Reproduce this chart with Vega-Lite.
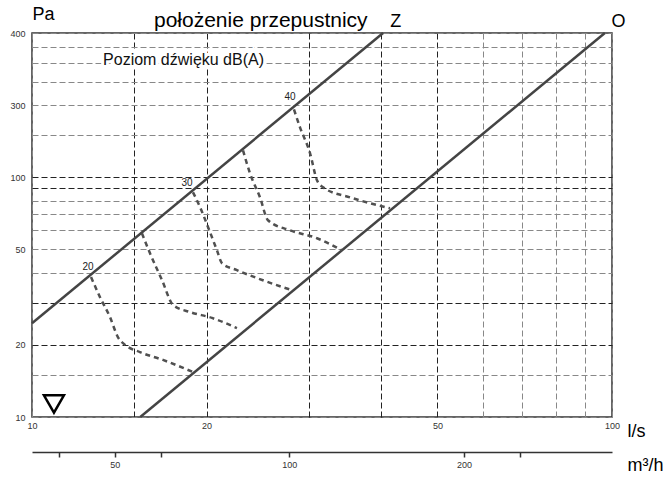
{
  "$schema": "https://vega.github.io/schema/vega-lite/v6.json",
  "width": 580,
  "height": 384,
  "autosize": {"type": "none"},
  "padding": {"left": 32, "top": 33, "right": 55, "bottom": 64},
  "background": "white",
  "config": {
    "font": "Liberation Sans",
    "view": {"stroke": "#333333", "strokeWidth": 1.5}
  },
  "datasets": {
    "solid": [
      {"s": "Z", "q": 10, "dp": 24.6},
      {"s": "Z", "q": 40.3, "dp": 400},
      {"s": "O", "q": 15.37, "dp": 10},
      {"s": "O", "q": 97.2, "dp": 400}
    ],
    "curves": [
      {"c": "20", "q": 12.64, "dp": 38.4},
      {"c": "20", "q": 13.1, "dp": 31.6},
      {"c": "20", "q": 13.63, "dp": 26.1},
      {"c": "20", "q": 14.07, "dp": 21.5},
      {"c": "20", "q": 14.47, "dp": 20.0},
      {"c": "20", "q": 15.35, "dp": 18.65},
      {"c": "20", "q": 16.82, "dp": 17.3},
      {"c": "20", "q": 18.95, "dp": 15.4},
      {"c": "25", "q": 15.47, "dp": 58.4},
      {"c": "25", "q": 15.97, "dp": 48.3},
      {"c": "25", "q": 16.76, "dp": 37.2},
      {"c": "25", "q": 17.51, "dp": 29.3},
      {"c": "25", "q": 18.73, "dp": 27.4},
      {"c": "25", "q": 20.43, "dp": 25.9},
      {"c": "25", "q": 22.56, "dp": 23.5},
      {"c": "30", "q": 18.95, "dp": 86.6},
      {"c": "30", "q": 19.49, "dp": 75.0},
      {"c": "30", "q": 20.12, "dp": 61.9},
      {"c": "30", "q": 20.84, "dp": 49.6},
      {"c": "30", "q": 21.26, "dp": 43.8},
      {"c": "30", "q": 22.56, "dp": 41.0},
      {"c": "30", "q": 25.01, "dp": 37.2},
      {"c": "30", "q": 28.07, "dp": 33.8},
      {"c": "35", "q": 23.11, "dp": 129.6},
      {"c": "35", "q": 23.76, "dp": 103.9},
      {"c": "35", "q": 24.72, "dp": 82.5},
      {"c": "35", "q": 25.52, "dp": 66.2},
      {"c": "35", "q": 27.85, "dp": 60.1},
      {"c": "35", "q": 31.0, "dp": 55.7},
      {"c": "35", "q": 34.22, "dp": 49.6},
      {"c": "40", "q": 28.29, "dp": 192},
      {"c": "40", "q": 28.98, "dp": 161.6},
      {"c": "40", "q": 30.16, "dp": 125.9},
      {"c": "40", "q": 31.0, "dp": 97.2},
      {"c": "40", "q": 31.76, "dp": 90.8},
      {"c": "40", "q": 35.34, "dp": 82.5},
      {"c": "40", "q": 41.42, "dp": 74.3}
    ],
    "levels": [
      {"t": "20", "q": 12.49, "dp": 42.2},
      {"t": "30", "q": 18.5, "dp": 94.4},
      {"t": "40", "q": 27.85, "dp": 215.4}
    ],
    "heads": [
      {"t": "Z", "q": 42.4, "dp": 425.6},
      {"t": "O", "q": 102.6, "dp": 425.6}
    ],
    "head": [
      {"t": "położenie przepustnicy", "q": 24.8, "dp": 425.6}
    ],
    "note": [
      {"t": "Poziom dźwięku dB(A)", "q": 13.26, "dp": 307.3}
    ],
    "sym": [
      {"q": 10.91, "dp": 11.33}
    ],
    "m3h": [
      {"m3h": 40}, {"m3h": 50}, {"m3h": 60}, {"m3h": 100}, {"m3h": 200}, {"m3h": 250}
    ]
  },
  "layer": [
    {
      "layer": [
        {
          "data": {"name": "solid"},
          "mark": {"type": "line", "color": "#444444", "strokeWidth": 2.5},
          "encoding": {
            "x": {
              "field": "q", "type": "quantitative",
              "scale": {"type": "log", "domain": [10, 100], "nice": false},
              "axis": {
                "orient": "bottom",
                "values": [10, 15, 20, 30, 40, 50, 60, 70, 80, 90, 100],
                "format": "d",
                "labelExpr": "indexof([10,20,50,100], datum.value) >= 0 ? datum.label : ''",
                "grid": true,
                "gridDash": [6, 3],
                "gridWidth": 1,
                "gridColor": {"condition": {"test": "indexof([15,20,30,40,50], datum.value) >= 0", "value": "#222222"}, "value": "#888888"},
                "domain": false,
                "ticks": false,
                "labelFontSize": 9,
                "labelColor": "#333333",
                "labelPadding": 4,
                "labelFlush": false,
                "labelOverlap": false,
                "title": "l/s",
                "titleFontSize": 18,
                "titleFontWeight": "normal",
                "titleColor": "#000000",
                "titleAlign": "left",
                "titleBaseline": "alphabetic",
                "titleX": 595,
                "titleY": 19
              }
            },
            "y": {
              "field": "dp", "type": "quantitative",
              "scale": {"type": "log", "domain": [10, 400], "nice": false},
              "axis": {
                "values": [10, 15, 20, 30, 40, 50, 60, 70, 80, 90, 100, 150, 200, 250, 300, 350, 400],
                "format": "d",
                "labelExpr": "datum.value == 200 ? '300' : (indexof([10,20,50,100,400], datum.value) >= 0 ? datum.label : '')",
                "grid": true,
                "gridDash": [6, 3],
                "gridWidth": 1,
                "gridColor": {"condition": {"test": "indexof([20,30,90,100], datum.value) >= 0", "value": "#222222"}, "value": "#888888"},
                "domain": false,
                "ticks": false,
                "labelFontSize": 9,
                "labelColor": "#333333",
                "labelPadding": 7,
                "labelFlush": false,
                "labelOverlap": false,
                "title": "Pa",
                "titleFontSize": 18,
                "titleFontWeight": "normal",
                "titleColor": "#000000",
                "titleAngle": 0,
                "titleAlign": "left",
                "titleBaseline": "alphabetic",
                "titleX": 0,
                "titleY": -14
              }
            },
            "detail": {"field": "s"}
          }
        },
        {
          "data": {"name": "curves"},
          "mark": {"type": "line", "color": "#505050", "strokeWidth": 2.5, "strokeDash": [5, 4], "interpolate": "monotone"},
          "encoding": {
            "x": {"field": "q", "type": "quantitative"},
            "y": {"field": "dp", "type": "quantitative"},
            "detail": {"field": "c"}
          }
        },
        {
          "data": {"name": "levels"},
          "mark": {"type": "text", "fontSize": 10, "color": "#222222", "align": "center", "baseline": "middle"},
          "encoding": {
            "x": {"field": "q", "type": "quantitative"},
            "y": {"field": "dp", "type": "quantitative"},
            "text": {"field": "t"}
          }
        },
        {
          "data": {"name": "heads"},
          "mark": {"type": "text", "fontSize": 18, "color": "#000000", "align": "center", "baseline": "alphabetic"},
          "encoding": {
            "x": {"field": "q", "type": "quantitative"},
            "y": {"field": "dp", "type": "quantitative"},
            "text": {"field": "t"}
          }
        },
        {
          "data": {"name": "head"},
          "mark": {"type": "text", "fontSize": 21, "color": "#000000", "align": "center", "baseline": "alphabetic"},
          "encoding": {
            "x": {"field": "q", "type": "quantitative"},
            "y": {"field": "dp", "type": "quantitative"},
            "text": {"field": "t"}
          }
        },
        {
          "data": {"name": "note"},
          "mark": {"type": "text", "fontSize": 16, "color": "#ffffff", "stroke": "#ffffff", "strokeWidth": 6, "align": "left", "baseline": "middle"},
          "encoding": {
            "x": {"field": "q", "type": "quantitative"},
            "y": {"field": "dp", "type": "quantitative"},
            "text": {"field": "t"}
          }
        },
        {
          "data": {"name": "note"},
          "mark": {"type": "text", "fontSize": 16, "color": "#111111", "align": "left", "baseline": "middle"},
          "encoding": {
            "x": {"field": "q", "type": "quantitative"},
            "y": {"field": "dp", "type": "quantitative"},
            "text": {"field": "t"}
          }
        },
        {
          "data": {"name": "sym"},
          "mark": {"type": "point", "shape": "triangle-down", "filled": false, "size": 400, "stroke": "#000000", "strokeWidth": 2.5, "opacity": 1},
          "encoding": {
            "x": {"field": "q", "type": "quantitative"},
            "y": {"field": "dp", "type": "quantitative"}
          }
        }
      ]
    },
    {
      "data": {"name": "m3h"},
      "mark": {"type": "rule", "opacity": 0},
      "encoding": {
        "x": {
          "field": "m3h", "type": "quantitative",
          "scale": {"type": "log", "domain": [36, 360], "nice": false},
          "axis": {
            "orient": "bottom",
            "offset": 35,
            "values": [40, 50, 60, 100, 200, 250],
            "format": "d",
            "labelExpr": "indexof([50,100,200], datum.value) >= 0 ? datum.label : ''",
            "grid": false,
            "domain": true,
            "domainColor": "#333333",
            "domainWidth": 1.5,
            "ticks": true,
            "tickSize": 5,
            "tickColor": "#333333",
            "tickWidth": 1.5,
            "labelFontSize": 9,
            "labelColor": "#333333",
            "labelPadding": 3,
            "labelFlush": false,
            "labelOverlap": false,
            "title": "m³/h",
            "titleFontSize": 18,
            "titleFontWeight": "normal",
            "titleColor": "#000000",
            "titleAlign": "left",
            "titleBaseline": "alphabetic",
            "titleX": 595,
            "titleY": 18
          }
        }
      }
    }
  ],
  "resolve": {"scale": {"x": "independent"}, "axis": {"x": "independent"}}
}
